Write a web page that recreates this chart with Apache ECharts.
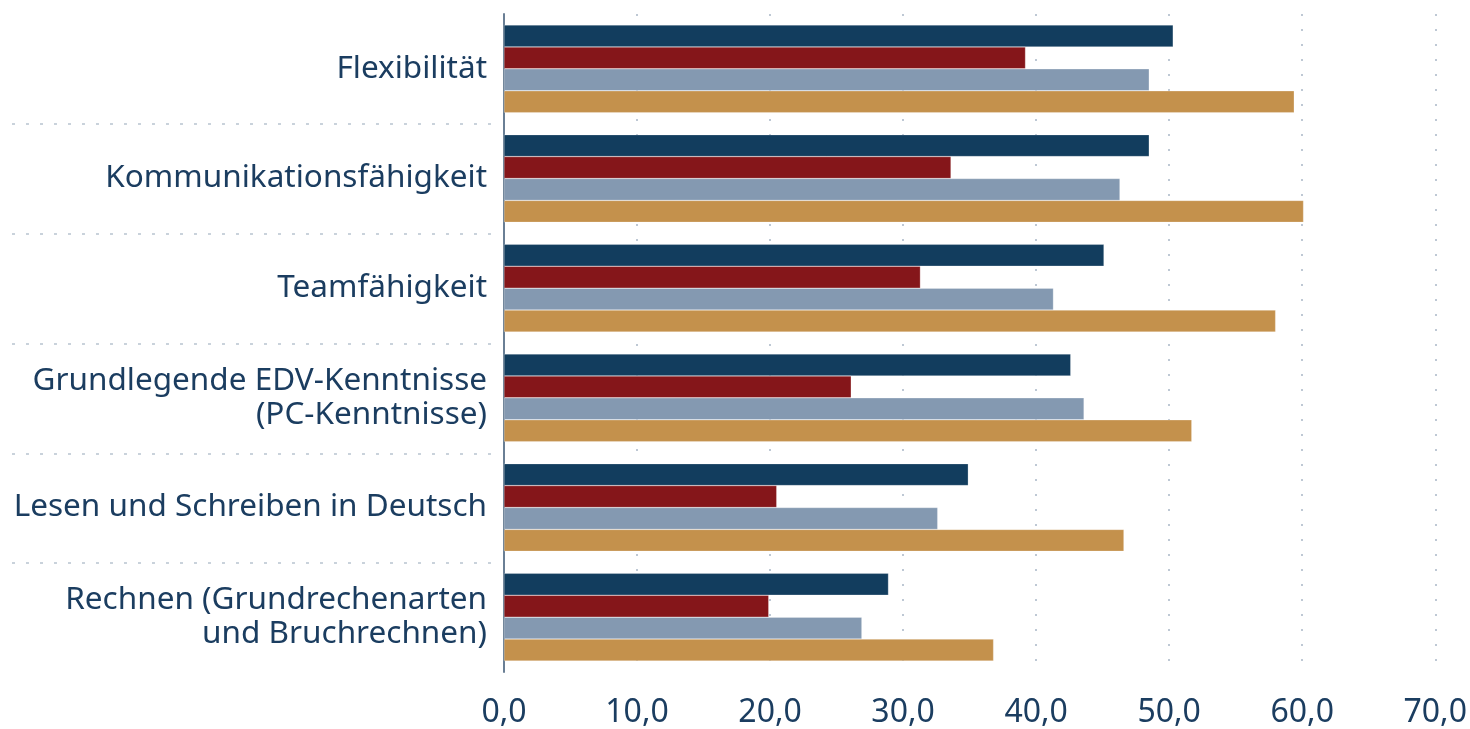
<!DOCTYPE html>
<html><head><meta charset="utf-8">
<script src="https://cdn.jsdelivr.net/npm/echarts@6/dist/echarts.min.js"></script>
<style>html,body{margin:0;padding:0;background:#fff}#c{width:1470px;height:729px}</style>
</head><body><div id="c"></div>
<script>
var categories = ['Flexibilität', 'Kommunikationsfähigkeit', 'Teamfähigkeit', 'Grundlegende EDV-Kenntnisse\n(PC-Kenntnisse)', 'Lesen und Schreiben in Deutsch', 'Rechnen (Grundrechenarten\nund Bruchrechnen)'];
var series1 = [50.3, 48.5, 45.1, 42.6, 34.9, 28.9];
var series2 = [39.2, 33.6, 31.3, 26.1, 20.5, 19.9];
var series3 = [48.5, 46.3, 41.3, 43.6, 32.6, 26.9];
var series4 = [59.4, 60.1, 58.0, 51.7, 46.6, 36.8];
var seriesNames = ['Reihe 1', 'Reihe 2', 'Reihe 3', 'Reihe 4'];
var colors = ['#123d5e', '#85161a', '#8499b1', '#c4914c'];
var xTicks = {min: 0, max: 70, interval: 10};

var chart = echarts.init(document.getElementById('c'));
var textColor = '#1b3d60';
var font = 'Noto Sans';
function mk(i, data) {
  return {name: seriesNames[i], type: 'bar', data: data, barGap: '0%', barCategoryGap: '20%',
    xAxisIndex: 0, yAxisIndex: 0,
    itemStyle: {color: colors[i], borderColor: 'rgba(255,255,255,0.5)', borderWidth: 0.5}};
}
chart.setOption({
  animation: false,
  grid: [{left: 504, right: 31, top: 14, bottom: 56}, {left: 12, width: 490, top: 14, bottom: 56}],
  xAxis: [{type: 'value', gridIndex: 0, min: xTicks.min, max: xTicks.max, interval: xTicks.interval,
    axisLine: {show: false}, axisTick: {show: false},
    splitLine: {show: true, lineStyle: {type: [2, 13], color: '#a9b6c6', width: 1.5}},
    axisLabel: {color: textColor, fontFamily: font, fontSize: 32, margin: 25,
      formatter: function (v) { return v.toFixed(1).replace('.', ','); }}},
    {type: 'value', gridIndex: 1, show: false, min: 0, max: 1}],
  yAxis: [{type: 'category', gridIndex: 0, data: categories, inverse: true,
    axisLine: {show: true, lineStyle: {color: '#6a7f95', width: 2}},
    axisTick: {show: false},
    axisLabel: {color: textColor, fontFamily: font, fontSize: 31.5, margin: 17, lineHeight: 34, align: 'right',
      padding: [5, 0, 0, 0]}},
    {type: 'value', gridIndex: 1, min: 0, max: categories.length, interval: 1, inverse: true,
      axisLine: {show: false}, axisTick: {show: false}, axisLabel: {show: false},
      splitLine: {show: true, showMinLine: false, showMaxLine: false,
        lineStyle: {type: [3, 11], color: '#b8c4d0', width: 1.5}}}],
  series: [mk(0, series1), mk(1, series2), mk(2, series3), mk(3, series4)]
});
</script></body></html>
